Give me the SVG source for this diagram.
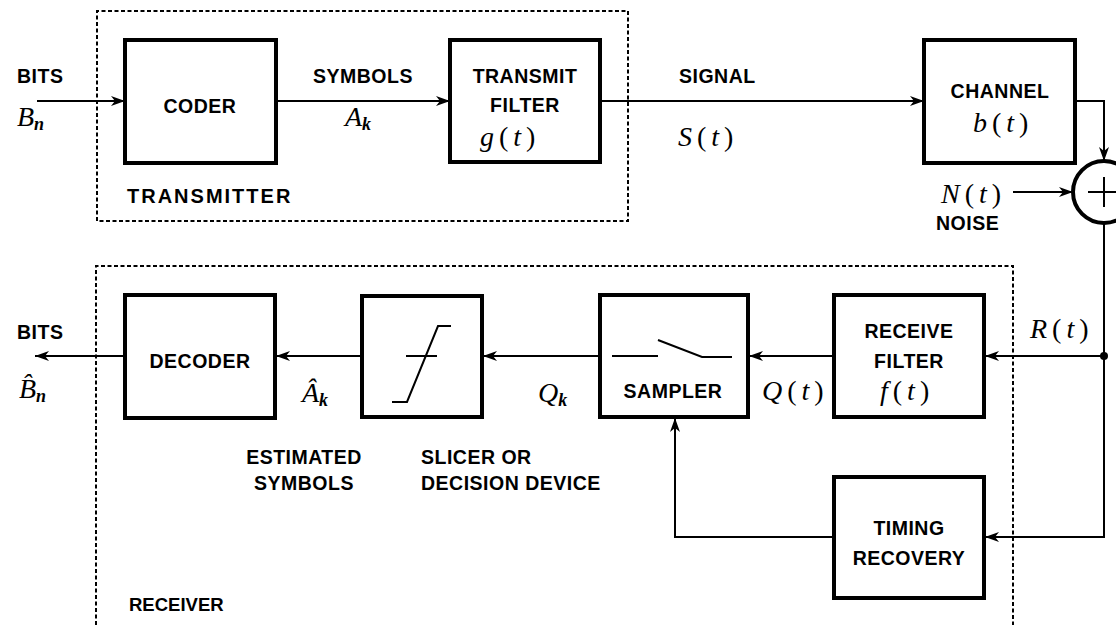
<svg xmlns="http://www.w3.org/2000/svg" width="1116" height="625" viewBox="0 0 1116 625">
<defs>
<marker id="ah" viewBox="0 0 14 10" refX="14" refY="5" markerWidth="14" markerHeight="10" markerUnits="userSpaceOnUse" orient="auto">
<path d="M0,0 L14,5 L0,10 L4,5 Z" fill="#000"/>
</marker>
</defs>
<style>
.blk{fill:#fff;stroke:#000;stroke-width:4}
.grp{fill:none;stroke:#000;stroke-width:2;stroke-dasharray:4 2.5}
.w{fill:none;stroke:#000;stroke-width:2}
.t{font-family:"Liberation Sans",Arial,Helvetica,sans-serif;font-weight:bold;font-size:19.5px;letter-spacing:0.5px;fill:#000}
.c{text-anchor:middle}
.big{font-size:20px;letter-spacing:2px}
.rcv{font-size:18.5px;letter-spacing:0px}
.m{font-family:"Liberation Serif","Times New Roman",serif;font-size:28px;fill:#000}
.f{letter-spacing:5px}
.i{font-style:italic}
.sub{font-size:18px;font-style:italic;font-weight:bold}
</style>
<rect width="1116" height="625" fill="#fff"/>

<g id="transmitter-group">
<path class="grp" d="M97,221 V11 H628 V221 Z"/>
<text class="t big" x="127" y="203">TRANSMITTER</text>
</g>
<g id="receiver-group">
<path class="grp" d="M96,625 V266 H1013 V625"/>
<text class="t rcv" x="129" y="611">RECEIVER</text>
</g>

<g id="connectors">
<path class="w" d="M37,101 H125" marker-end="url(#ah)"/>
<path class="w" d="M276,101 H450" marker-end="url(#ah)"/>
<path class="w" d="M600,101 H924" marker-end="url(#ah)"/>
<path class="w" d="M1075,101 H1104 V161" marker-end="url(#ah)"/>
<path class="w" d="M1013,192 H1073" marker-end="url(#ah)"/>
<path class="w" d="M1104,223 V537 H985" marker-end="url(#ah)"/>
<path class="w" d="M1104,356 H985" marker-end="url(#ah)"/>
<circle cx="1104" cy="356" r="4" fill="#000"/>
<path class="w" d="M834,356 H749" marker-end="url(#ah)"/>
<path class="w" d="M600,356 H483" marker-end="url(#ah)"/>
<path class="w" d="M362,356 H276" marker-end="url(#ah)"/>
<path class="w" d="M125,356 H35" marker-end="url(#ah)"/>
<path class="w" d="M834,537 H675 V418" marker-end="url(#ah)"/>
</g>

<g id="bits-in">
<text class="t" x="17" y="83">BITS</text>
<text class="m" x="17" y="126"><tspan class="i">B</tspan><tspan class="sub" dy="4">n</tspan></text>
</g>

<g id="coder">
<rect class="blk" x="125" y="40" width="151" height="123"/>
<text class="t c" x="200" y="113">CODER</text>
</g>

<g id="symbols-label">
<text class="t c" x="363" y="83">SYMBOLS</text>
<text class="m" x="345" y="126"><tspan class="i">A</tspan><tspan class="sub" dy="4">k</tspan></text>
</g>

<g id="transmit-filter">
<rect class="blk" x="450" y="40" width="150" height="122"/>
<text class="t c" x="525" y="83">TRANSMIT</text>
<text class="t c" x="525" y="112">FILTER</text>
<text class="m f" x="480" y="146"><tspan class="i">g</tspan>(<tspan class="i">t</tspan>)</text>
</g>

<g id="signal-label">
<text class="t" x="679" y="83">SIGNAL</text>
<text class="m f" x="678" y="146"><tspan class="i">S</tspan>(<tspan class="i">t</tspan>)</text>
</g>

<g id="channel">
<rect class="blk" x="924" y="40" width="151" height="123"/>
<text class="t c" x="1000" y="98">CHANNEL</text>
<text class="m f" x="973" y="132"><tspan class="i">b</tspan>(<tspan class="i">t</tspan>)</text>
</g>

<g id="noise">
<text class="m f" x="941" y="203"><tspan class="i">N</tspan>(<tspan class="i">t</tspan>)</text>
<text class="t" x="936" y="230">NOISE</text>
</g>

<g id="adder">
<circle cx="1104" cy="192" r="31" fill="#fff" stroke="#000" stroke-width="4"/>
<path class="w" d="M1088,192 H1120 M1104,177 V207"/>
</g>

<g id="r-label">
<text class="m f" x="1030" y="338"><tspan class="i">R</tspan>(<tspan class="i">t</tspan>)</text>
</g>

<g id="receive-filter">
<rect class="blk" x="834" y="295" width="150" height="122"/>
<text class="t c" x="909" y="338">RECEIVE</text>
<text class="t c" x="909" y="368">FILTER</text>
<text class="m f" x="880" y="400"><tspan class="i">f</tspan>(<tspan class="i">t</tspan>)</text>
</g>

<g id="q-label">
<text class="m f" x="762" y="400"><tspan class="i">Q</tspan>(<tspan class="i">t</tspan>)</text>
</g>

<g id="sampler">
<rect class="blk" x="600" y="295" width="148" height="122"/>
<path class="w" stroke-width="2.5" d="M612,356 H658 M658,340 L702,357 H732"/>
<text class="t c" x="673" y="398">SAMPLER</text>
</g>

<g id="qk-label">
<text class="m" x="538" y="402"><tspan class="i">Q</tspan><tspan class="sub" dy="4">k</tspan></text>
</g>

<g id="slicer">
<rect class="blk" x="362" y="296" width="120" height="121"/>
<path class="w" stroke-width="2.5" d="M406,356 H437 M392,402 H407 L438,326 H451"/>
<text class="t" x="421" y="464">SLICER OR</text>
<text class="t" x="421" y="490">DECISION DEVICE</text>
</g>

<g id="estimated-label">
<text class="m" x="302" y="402"><tspan class="i">Â</tspan><tspan class="sub" dy="4">k</tspan></text>
<text class="t c" x="304" y="464">ESTIMATED</text>
<text class="t c" x="304" y="490">SYMBOLS</text>
</g>

<g id="decoder">
<rect class="blk" x="125" y="295" width="150" height="123"/>
<text class="t c" x="200" y="368">DECODER</text>
</g>

<g id="bits-out">
<text class="t" x="17" y="339">BITS</text>
<text class="m" x="19" y="398"><tspan class="i">B̂</tspan><tspan class="sub" dy="4">n</tspan></text>
</g>

<g id="timing-recovery">
<rect class="blk" x="834" y="477" width="150" height="121"/>
<text class="t c" x="909" y="535">TIMING</text>
<text class="t c" x="909" y="565">RECOVERY</text>
</g>
</svg>
